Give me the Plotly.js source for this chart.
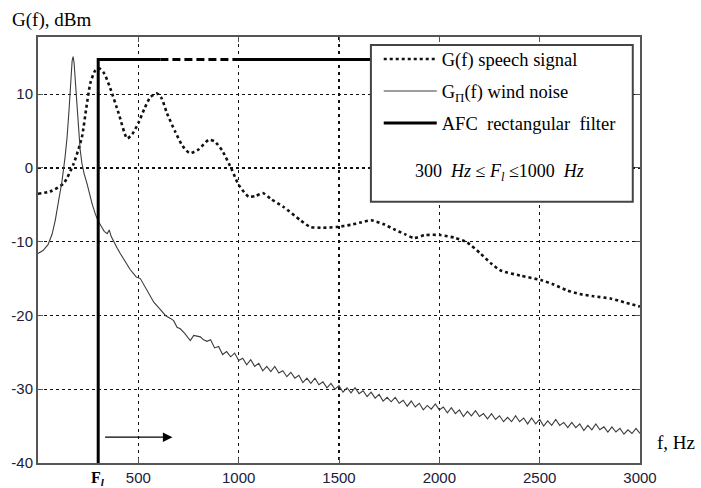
<!DOCTYPE html>
<html>
<head>
<meta charset="utf-8">
<script src="https://cdn.plot.ly/plotly-3.0.1.min.js"></script>
<style>html,body{margin:0;padding:0;background:#fff;}#chart{width:701px;height:488px;}</style>
</head>
<body>
<div id="chart"></div>
<script>
// Speech signal G(f)
var speechF = [0,60,128,178,219,240,261,285,305,330,360,402,444,470,502,530,560,593,615,643,684,720,756,800,850,880,917,967,1000,1050,1085,1120,1160,1224,1308,1357,1420,1490,1560,1607,1660,1720,1773,1830,1872,1930,2005,2080,2138,2205,2260,2305,2404,2505,2570,2637,2700,2770,2853,2920,3000];
var speechG = [-3.5,-3.2,-2.1,0.6,4.2,8.0,11.5,13.2,13.5,12.8,10.8,7.4,4.0,4.6,6.2,8.0,9.6,10.1,9.5,7.4,4.9,3.0,2.0,2.5,3.8,3.6,2.4,-0.3,-2.3,-3.9,-3.8,-3.4,-4.2,-5.3,-7.1,-8.0,-8.1,-8.0,-7.7,-7.4,-7.1,-7.6,-8.3,-9.0,-9.5,-9.1,-9.1,-9.5,-10.1,-11.6,-13.0,-13.9,-14.6,-15.2,-15.8,-16.6,-17.1,-17.4,-17.7,-18.2,-18.8];

// Wind noise G_П(f)
var noiseF = [0,25,50,70,86,100,120,135,145,155,163,170,175,180,188,195,202,210,219,230,244,256,269,285,300,315,330,345,355,365,380,395,410,425,444,460,475,490,510,540,577,610,635,660,676,693,709,730,745,759,776,790,809,825,842,
860,880,900,920,940,960,980,1000,1020,1040,1060,1080,1100,1120,1140,1160,1180,1200,1220,1240,1260,1280,1300,1320,1340,1360,1380,1400,1420,1440,1460,1480,1500,1520,1540,1560,1580,1600,1620,1640,1660,1680,1700,1720,1740,1760,1780,1800,1820,1840,1860,1880,1900,1920,1940,1960,1980,2000,2020,2040,2060,2080,2100,2120,2140,2160,2180,2200,2220,2240,2260,2280,2300,2320,2340,2360,2380,2400,2420,2440,2460,2480,2500,2520,2540,2560,2580,2600,2620,2640,2660,2680,2700,2720,2740,2760,2780,2800,2820,2840,2860,2880,2900,2920,2940,2960,2980,3000];
var noiseG = [-11.6,-11.2,-10.4,-9.0,-7.1,-5.0,-1.7,1.5,4.2,8.0,11.5,14.5,15.1,14.2,11.0,8.0,5.1,2.5,0.6,-0.8,-2.1,-3.5,-4.8,-6.2,-7.2,-7.9,-8.6,-8.9,-8.4,-9.3,-10.2,-10.9,-11.6,-12.3,-13.2,-13.8,-14.3,-14.8,-15.0,-16.5,-18.2,-19.2,-20.0,-20.4,-20.7,-21.6,-21.8,-22.4,-22.9,-23.4,-22.7,-22.8,-22.9,-23.3,-23.5,
-23.3,-24.4,-24.2,-25.3,-24.9,-25.6,-25.1,-26.1,-25.8,-26.7,-26.0,-26.9,-26.5,-27.5,-26.9,-27.6,-26.9,-27.8,-27.5,-28.3,-27.7,-28.5,-28.1,-29.1,-28.5,-29.2,-28.5,-29.4,-29.0,-29.8,-29.2,-30.0,-29.5,-30.4,-29.8,-30.5,-29.8,-30.6,-30.2,-31.0,-30.4,-31.2,-30.7,-31.6,-31.1,-31.7,-31.1,-31.9,-31.5,-32.3,-31.6,-32.4,-31.9,-32.8,-32.2,-32.7,-32.0,-32.8,-32.4,-33.2,-32.5,-33.3,-32.8,-33.7,-33.0,-33.6,-32.9,-33.7,-33.3,-34.0,-33.3,-34.1,-33.6,-34.4,-33.8,-34.4,-33.6,-34.4,-33.9,-34.7,-33.9,-34.7,-34.1,-35.0,-34.3,-34.9,-34.1,-34.9,-34.5,-35.2,-34.5,-35.2,-34.7,-35.6,-34.9,-35.5,-34.7,-35.5,-35.1,-35.8,-35.1,-35.8,-35.3,-36.1,-35.5,-36.0,-35.3,-36.0];

// AFC rectangular filter (F_l = 300 Hz)
var filterF = [300,300,610];
var filterG = [-40,14.7,14.7];
var filterDashF = [610,1000];
var filterDashG = [14.7,14.7];
var filterTailF = [1000,1700];
var filterTailG = [14.7,14.7];

var xTicks = [500,1000,1500,2000,2500,3000];
var yTicks = [-40,-30,-20,-10,0,10];
var arrowF = [327,670];
var arrowG = -36.5;

var serif = "Liberation Serif, Times New Roman, serif";

var traces = [
  {x: speechF, y: speechG, type:'scatter', mode:'lines', name:'G(f) speech signal',
   line:{color:'#111', width:2.6, dash:'dot', shape:'spline', smoothing:0.6}, legendgroup:'a'},
  {x: noiseF, y: noiseG, type:'scatter', mode:'lines', name:'G<sub>П</sub>(f) wind noise',
   line:{color:'#3c3c3c', width:1.1}, legendgroup:'b'},
  {x: filterF, y: filterG, type:'scatter', mode:'lines', name:'AFC\u00A0 rectangular\u00A0 filter',
   line:{color:'#000', width:3}, legendgroup:'c'},
  {x: filterDashF, y: filterDashG, type:'scatter', mode:'lines', showlegend:false,
   line:{color:'#000', width:3, dash:'8px,4px'}},
  {x: filterTailF, y: filterTailG, type:'scatter', mode:'lines', showlegend:false,
   line:{color:'#000', width:3}}
];

var tickFont = {family:'Liberation Sans, Arial, sans-serif', size:15, color:'#202038'};

var layout = {
  width:701, height:488,
  margin:{l:38, r:61, t:37, b:25},
  paper_bgcolor:'#fff', plot_bgcolor:'#fff',
  showlegend:true,
  legend:{x:0.566, y:0.992, xanchor:'left', yanchor:'top', bgcolor:'rgba(0,0,0,0)', borderwidth:0,
    font:{family:serif, size:18.5, color:'#000'}, itemwidth:53, traceorder:'grouped', tracegroupgap:5},
  xaxis:{range:[0,3000], tickvals:xTicks, ticktext:xTicks.map(String), showgrid:true, gridcolor:'#111', gridwidth:1.2,
    griddash:'3px,4px', zeroline:false, showline:true, linecolor:'#555', linewidth:2, mirror:'ticks',
    ticks:'inside', ticklen:5, tickcolor:'#555', tickfont:tickFont},
  yaxis:{range:[-40,17.75], tickvals:yTicks, ticktext:yTicks.map(String), showgrid:true, gridcolor:'#111', gridwidth:1.2,
    griddash:'3px,3px', zeroline:false, showline:true, linecolor:'#555', linewidth:2, mirror:'ticks',
    ticks:'inside', ticklen:5, tickcolor:'#555', tickfont:tickFont},
  shapes:[
    {type:'rect', xref:'paper', yref:'paper', x0:0.553, x1:0.988, y0:0.613, y1:0.981,
     fillcolor:'#fff', line:{color:'#444', width:2}, layer:'above'}
  ],
  annotations:[
    {xref:'paper', yref:'paper', x:-0.047, y:1.04, xanchor:'left', yanchor:'middle', showarrow:false,
     text:'G(f), dBm', font:{family:serif, size:19, color:'#000'}},
    {xref:'paper', yref:'paper', x:1.025, y:0.047, xanchor:'left', yanchor:'middle', showarrow:false,
     text:'f, Hz', font:{family:serif, size:19, color:'#000'}},
    {xref:'x', yref:'paper', x:filterF[0], y:-0.036, xanchor:'center', yanchor:'middle', showarrow:false,
     text:'<b>F<sub><i>l</i></sub></b>', font:{family:serif, size:16, color:'#000'}},
    {xref:'paper', yref:'paper', x:0.767, y:0.683, xanchor:'center', yanchor:'middle', showarrow:false,
     text:'300 \u00A0<i>Hz</i> ≤ <i>F<sub>l</sub></i> ≤1000 \u00A0<i>Hz</i>', font:{family:serif, size:18, color:'#000'}},
    {xref:'x', yref:'y', axref:'x', ayref:'y', x:arrowF[1], y:arrowG, ax:arrowF[0], ay:arrowG,
     text:'', showarrow:true, arrowhead:2, arrowsize:1.6, arrowwidth:1.2, arrowcolor:'#000'}
  ],
  hovermode:false
};

Plotly.newPlot('chart', traces, layout, {staticPlot:true, displayModeBar:false});
</script>
</body>
</html>
